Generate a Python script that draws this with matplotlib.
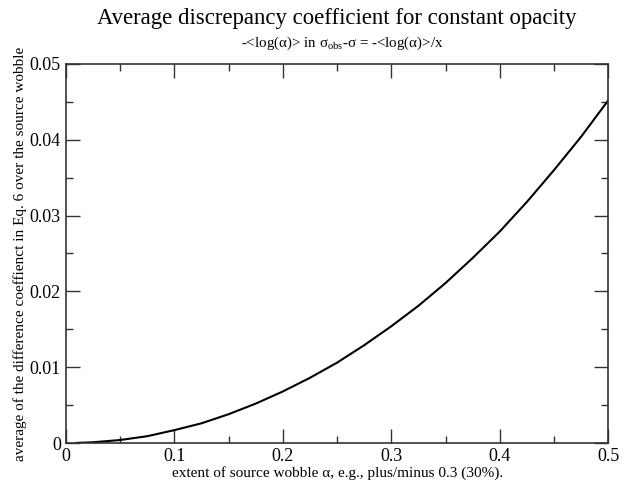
import matplotlib
matplotlib.use("Agg")
import matplotlib.pyplot as plt
import matplotlib.ticker as mticker

# wobble extent vs. average discrepancy coefficient
wobble = [0.01, 0.025, 0.05, 0.075, 0.10, 0.125, 0.15, 0.175, 0.20, 0.225,
          0.25, 0.275, 0.30, 0.325, 0.35, 0.375, 0.40, 0.425, 0.45, 0.475, 0.50]
discrepancy = [0.00002, 0.0001, 0.0004, 0.0009, 0.0017, 0.0026, 0.0038,
               0.0052, 0.0068, 0.0086, 0.0106, 0.0129, 0.0154, 0.0181,
               0.0211, 0.0244, 0.0279, 0.0318, 0.0360, 0.0404, 0.0452]
x_ticks = [0, 0.1, 0.2, 0.3, 0.4, 0.5]
y_ticks = [0, 0.01, 0.02, 0.03, 0.04, 0.05]

plt.rcParams['font.family'] = ['Liberation Serif', 'DejaVu Serif']
plt.rcParams['mathtext.fontset'] = 'custom'
plt.rcParams['mathtext.rm'] = 'Liberation Serif'
plt.rcParams['mathtext.it'] = 'Liberation Serif:italic'

fig = plt.figure(figsize=(6.33, 4.80), dpi=100)
ax = fig.add_axes([0.104, 0.077, 0.857, 0.790])

ax.plot(wobble, discrepancy, color='black', linewidth=1.5)

ax.set_xlim(0, 0.5)
ax.set_ylim(0, 0.05)
ax.set_xticks(x_ticks)
ax.set_yticks(y_ticks)
ax.xaxis.set_minor_locator(mticker.MultipleLocator(0.05))
ax.yaxis.set_minor_locator(mticker.MultipleLocator(0.005))
ax.xaxis.set_major_formatter(mticker.FormatStrFormatter('%g'))
ax.yaxis.set_major_formatter(mticker.FormatStrFormatter('%g'))

ax.tick_params(which='both', direction='in', top=True, right=True,
               color='#333333', labelsize=13)
ax.tick_params(which='major', length=10, width=1)
ax.tick_params(which='minor', length=5, width=1)
for sp in ax.spines.values():
    sp.set_color('#333333')
    sp.set_linewidth(1.2)

ax.set_xlabel(u"extent of source wobble \u03b1, e.g., plus/minus 0.3 (30%).",
              fontsize=11, labelpad=1)
ax.set_ylabel("average of the difference coeffienct in Eq. 6 over the source wobble",
              fontsize=11, labelpad=2)

# title block is centred over the plot area, not the figure
cx = 0.104 + 0.857 / 2
fig.text(cx, 0.962, "Average discrepancy coefficient for constant opacity",
         ha='center', va='center', fontsize=16.4)
fig.text(cx + 0.008, 0.910,
         u"-<log(\u03b1)> in \u03c3$_{\\rm obs}$-\u03c3 = -<log(\u03b1)>/x",
         ha='center', va='center', fontsize=10.8)

fig.savefig("out.png", dpi=100)
